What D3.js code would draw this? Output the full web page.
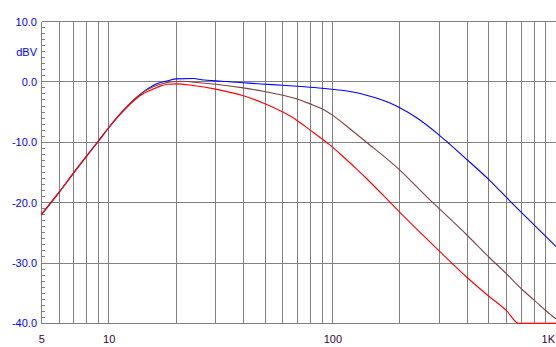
<!DOCTYPE html>
<html><head><meta charset="utf-8">
<script src="https://cdn.jsdelivr.net/npm/d3@7"></script>
<style>
html,body{margin:0;padding:0;background:#fff;}
svg{display:block;}
text{font-family:"Liberation Sans",Arial,sans-serif;font-size:11px;}
</style></head>
<body>
<svg id="chart" width="556" height="347"></svg>
<script>
// ---- data ----
const blueFreq = [5,6,7,8,9,10,12,13.8,15.8,17,18.4,20,24,26,32,40,48,60,75,90,104,120,142,181,200,237,302,334,400,504,620,788,1000];
const blueDb   = [-22,-18.3,-15,-12.2,-9.8,-7.6,-4.2,-2.1,-0.6,-0.1,0.2,0.5,0.55,0.35,0.1,-0.15,-0.35,-0.55,-0.8,-1.05,-1.3,-1.6,-2.2,-3.5,-4.3,-5.9,-8.9,-10.3,-12.9,-16.3,-19.7,-23.5,-27.3];

const brownFreq = [5,6,7,8,9,10,12,13.8,15.8,17,18.8,21,25.5,30,40,49,60,69,79,94,100,120,142,200,277,300,400,500,600,700,800,900,1000];
const brownDb   = [-22,-18.3,-15,-12.2,-9.8,-7.6,-4.2,-2.1,-0.8,-0.4,0.0,0.1,-0.15,-0.4,-1.0,-1.55,-2.2,-2.8,-3.6,-4.85,-5.5,-7.8,-10.0,-14.6,-19.8,-21,-25.4,-29,-31.8,-34.3,-36.2,-37.9,-39.3];

const redFreq = [5,6,7,8,9,10,12,13.8,15.8,17,18.4,20,23.8,30,40,49,60,69,79,95.5,100,108,128,142,200,300,400,500,600,680,1000];
const redDb   = [-22,-18.3,-15,-12.2,-9.8,-7.6,-4.3,-2.3,-1.2,-0.7,-0.4,-0.33,-0.6,-1.2,-2.3,-3.5,-5.0,-6.3,-7.9,-10.2,-10.8,-11.9,-14.4,-16.0,-21.6,-28.0,-32.4,-35.5,-37.9,-40,-40];

const xGrid = [6,7,8,9,10,20,30,40,50,60,70,80,90,100,200,300,400,500,600,700,800,900,1000];
const xTickVals = [5,10,100,1000];
const xTickLabels = ["5","10","100","1K"];
const yTickVals = [10,5,0,-10,-20,-30,-40];
const yTickLabels = ["10.0","dBV","0.0","-10.0","-20.0","-30.0","-40.0"];
const yGrid = [10,0,-10,-20,-30,-40];
const yMinor = d3.range(-40,11,1).filter(v => v % 10 !== 0);

const series = [
  {f: blueFreq, v: blueDb, color: "#0000ff"},
  {f: brownFreq, v: brownDb, color: "#804040"},
  {f: redFreq, v: redDb, color: "#ff0000"}
];

// ---- scales ----
const x = d3.scaleLog().domain([5,1000]).range([41.3,556.2]);
const y = d3.scaleLinear().domain([-40,10]).range([323.4,21.5]);
const px = v => Math.round(v - 0.5) + 0.5;

const svg = d3.select("#chart");
const grid = svg.append("g").attr("stroke","#808080").attr("stroke-width",1).attr("shape-rendering","crispEdges");

// horizontal grid
grid.selectAll("line.h").data(yGrid).join("line")
  .attr("x1", px(x(5))).attr("x2", 556)
  .attr("y1", d => px(y(d))).attr("y2", d => px(y(d)));
// vertical grid + left axis
grid.selectAll("line.v").data([5].concat(xGrid)).join("line")
  .attr("x1", d => px(x(d))).attr("x2", d => px(x(d)))
  .attr("y1", px(y(10))).attr("y2", px(y(-40)));
// minor y ticks
grid.selectAll("line.m").data(yMinor).join("line")
  .attr("x1", px(x(5))).attr("x2", px(x(5)) + 3)
  .attr("y1", d => px(y(d))).attr("y2", d => px(y(d)));

// curves
const line = d3.line().x(d => x(d[0])).y(d => y(d[1])).curve(d3.curveMonotoneX);
svg.append("g").selectAll("path").data(series).join("path")
  .attr("fill","none").attr("stroke", d => d.color).attr("stroke-width",1.1)
  .attr("d", d => line(d.f.map((f,i) => [f, d.v[i]])));

// y labels
svg.append("g").selectAll("text").data(yTickVals).join("text")
  .attr("x", 37).attr("y", d => y(d) + 4)
  .attr("text-anchor","end").attr("fill","#0000ff")
  .text((d,i) => yTickLabels[i]);

// x labels
svg.append("g").selectAll("text").data(xTickVals).join("text")
  .attr("x", d => d === 1000 ? 555 : x(d) + 0.5)
  .attr("y", 342.5)
  .attr("text-anchor", d => d === 1000 ? "end" : "middle")
  .attr("fill","#400040")
  .text((d,i) => xTickLabels[i]);
</script>
</body></html>
